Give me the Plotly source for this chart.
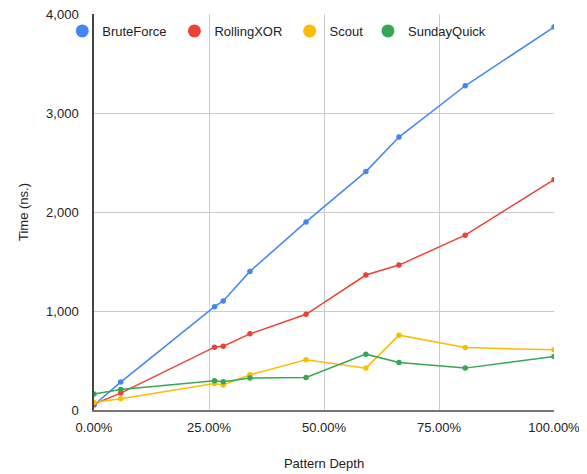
import plotly.graph_objects as go

# Pattern depth (fraction of pattern length) shared by all series
depth = [0.0, 0.058, 0.262, 0.281, 0.339, 0.461, 0.591, 0.663, 0.807, 1.0]

series_names = ['BruteForce', 'RollingXOR', 'Scout', 'SundayQuick']
series_colors = ['#4285F4', '#EA4335', '#FBBC04', '#34A853']

brute_force = [50, 282, 1044, 1102, 1400, 1900, 2408, 2757, 3275, 3868]
rolling_xor = [60, 171, 635, 645, 769, 967, 1363, 1464, 1766, 2327]
scout = [77, 114, 268, 252, 356, 507, 423, 756, 631, 608]
sunday_quick = [161, 208, 295, 285, 322, 329, 564, 480, 423, 540]

values = [brute_force, rolling_xor, scout, sunday_quick]

# отдельная легенда на каждую серию, чтобы расставить их как в оригинале
legend_ids = ['legend', 'legend2', 'legend3', 'legend4']
legend_x = [-0.069, 0.1748, 0.4252, 0.5956]

fig = go.Figure()

for name, color, ys, lid in zip(series_names, series_colors, values, legend_ids):
    # Линия с маленькими точками
    fig.add_trace(go.Scatter(
        x=depth, y=ys, mode='lines+markers', name=name,
        line=dict(color=color, width=1.5),
        marker=dict(color=color, size=5.5),
        showlegend=False, hoverinfo='x+y+name'
    ))
    # Только кружок в легенде
    fig.add_trace(go.Scatter(
        x=[None], y=[None], mode='markers', name=name,
        marker=dict(color=color, size=13),
        showlegend=True, legend=lid
    ))

legend_style = dict(
    orientation='h', y=0.995, xanchor='left', yanchor='top',
    bgcolor='rgba(0,0,0,0)', font=dict(size=13, color='#222222'),
    itemwidth=30
)

fig.update_layout(
    width=579, height=466,
    margin=dict(l=86, r=33, t=6, b=64),
    paper_bgcolor='white', plot_bgcolor='white',
    font=dict(family='Arial, Liberation Sans, sans-serif', size=13, color='#222222'),
    showlegend=True,
    xaxis=dict(
        range=[0, 1], tickvals=[0, 0.25, 0.5, 0.75, 1.0], tickformat='.2%',
        showgrid=True, gridcolor='#cccccc', gridwidth=1,
        showline=True, linecolor='#777777', linewidth=2,
        zeroline=False, ticks='', ticklabelstandoff=4, automargin=False,
        ticklabeloverflow='allow',
        title=dict(text='Pattern Depth', standoff=25, font=dict(size=13)),
        mirror=False
    ),
    yaxis=dict(
        range=[0, 4000], tickvals=[0, 1000, 2000, 3000, 4000], tickformat=',',
        showgrid=True, gridcolor='#cccccc', gridwidth=1,
        showline=True, linecolor='#444444', linewidth=1.5,
        zeroline=False, ticks='', ticklabelstandoff=11, automargin=False,
        ticklabeloverflow='allow',
        title=dict(text='Time (ns.)', standoff=15, font=dict(size=13))
    ),
)

for lid, lx in zip(legend_ids, legend_x):
    fig.update_layout({lid: dict(legend_style, x=lx)})

fig.write_html('out.html')
